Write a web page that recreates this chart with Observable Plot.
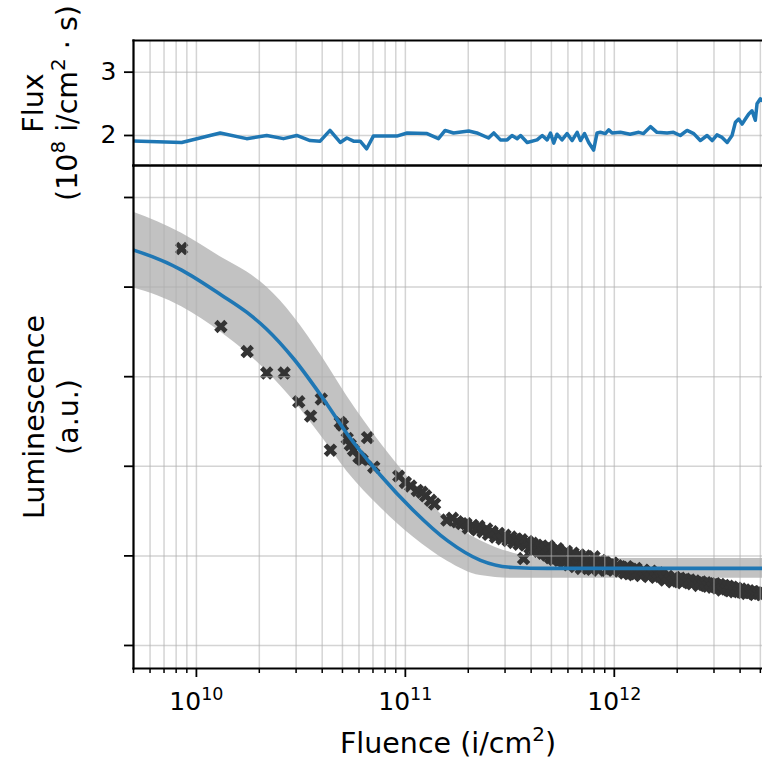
<!DOCTYPE html>
<html><head><meta charset="utf-8">
<script src="https://cdn.jsdelivr.net/npm/d3@7"></script>
<script src="https://cdn.jsdelivr.net/npm/@observablehq/plot@0.6"></script>
<style>
body{margin:0;background:#fff;}
#wrap{position:relative;width:762px;height:759px;overflow:hidden;font-family:"DejaVu Sans",sans-serif;background:#fff;}
#wrap svg{position:absolute;left:0;overflow:visible;background:transparent;}
</style></head><body><div id="wrap"></div>
<script>
// ---------- data ----------
const fluxFluence = [4.0e9,8.5e9,1.30e10,1.74e10,2.17e10,2.61e10,3.02e10,3.50e10,3.91e10,4.36e10,4.88e10,5.25e10,5.65e10,6.08e10,6.53e10,7.03e10,9.10e10,1.02e11,1.27e11,1.44e11,1.55e11,1.70e11,2.01e11,2.20e11,2.50e11,2.65e11,2.85e11,3.07e11,3.24e11,3.43e11,3.56e11,3.83e11,4.27e11,4.52e11,4.77e11,4.95e11,5.13e11,5.32e11,5.62e11,5.94e11,6.28e11,6.64e11,6.89e11,7.20e11,7.54e11,7.96e11,8.27e11,8.58e11,9.06e11,9.40e11,9.76e11,1.07e12,1.19e12,1.31e12,1.38e12,1.49e12,1.60e12,1.79e12,1.92e12,2.07e12,2.23e12,2.40e12,2.58e12,2.78e12,2.94e12,3.10e12,3.28e12,3.47e12,3.66e12,3.80e12,3.94e12,4.09e12,4.24e12,4.40e12,4.56e12,4.73e12,4.82e12,5.00e12,5.12e12];
const fluxValues = [1.92,1.89,2.04,1.95,2.00,1.95,2.00,1.92,1.91,2.08,1.89,1.96,1.91,1.91,1.79,1.99,1.99,2.04,2.03,1.95,2.08,2.04,2.07,2.04,1.96,2.04,1.93,1.93,2.00,1.95,2.00,1.89,1.93,2.00,1.93,2.04,1.88,2.02,1.93,2.03,1.92,2.05,1.92,2.03,1.89,1.77,2.04,2.05,2.03,2.09,2.04,2.05,2.02,2.05,2.03,2.14,2.05,2.04,2.05,2.00,2.08,2.03,1.92,2.00,1.92,2.01,1.97,1.89,2.00,2.21,2.26,2.18,2.26,2.34,2.39,2.24,2.50,2.58,2.55];

const lumFluence = [8.5e9,1.31e10,1.75e10,2.17e10,2.63e10,3.09e10,3.52e10,3.96e10,4.38e10,4.88e10,5.0e10,5.27e10,5.45e10,5.65e10,6.0e10,6.21e10,6.59e10,7.06e10,9.3e10,1.0e11,1.06e11,1.14e11,1.2e11,1.25e11,1.32e11,1.38e11,1.58e11,1.68e11,1.77e11,1.86e11,
1.95e11,2.0e11,2.1e11,2.2e11,2.25e11,2.35e11,2.45e11,2.5e11,2.6e11,2.7e11,2.8e11,2.9e11,3.0e11,3.1e11,
3.2e11,3.3e11,3.4e11,3.5e11,3.6e11,3.68e11,3.75e11,3.85e11,3.95e11,4.05e11,4.15e11,4.25e11,4.35e11,4.45e11,4.55e11,4.65e11,4.75e11,4.85e11,4.95e11,5.05e11,5.15e11,5.25e11,5.35e11,5.45e11,
5.6e11,5.75e11,5.9e11,6.05e11,6.2e11,6.35e11,6.5e11,6.65e11,6.8e11,6.95e11,7.1e11,7.25e11,7.4e11,7.6e11,7.8e11,8.0e11,8.2e11,8.4e11,8.6e11,8.8e11,9.0e11,9.2e11,9.4e11,9.6e11,9.8e11,
1.00e12,1.03e12,1.06e12,1.09e12,1.12e12,1.15e12,1.18e12,1.21e12,1.24e12,1.27e12,1.30e12,1.34e12,1.38e12,1.42e12,1.46e12,1.50e12,1.54e12,1.58e12,1.62e12,1.66e12,
1.70e12,1.75e12,1.80e12,1.85e12,1.90e12,1.95e12,2.00e12,2.06e12,2.12e12,2.18e12,2.24e12,2.30e12,2.36e12,2.42e12,2.48e12,2.54e12,2.60e12,2.67e12,2.74e12,2.81e12,2.88e12,
2.95e12,3.03e12,3.11e12,3.19e12,3.27e12,3.35e12,3.43e12,3.51e12,3.59e12,3.67e12,3.76e12,3.85e12,3.94e12,4.03e12,4.12e12,4.21e12,4.30e12,4.40e12,4.50e12,4.60e12,4.70e12,4.80e12,4.90e12,5.00e12,5.10e12];
const lumValues = [5.43,4.56,4.28,4.04,4.04,3.72,3.56,3.75,3.18,3.49,3.46,3.31,3.24,3.18,3.10,3.07,3.32,2.99,2.89,2.82,2.78,2.73,2.71,2.67,2.62,2.58,2.40,2.42,2.38,2.36,
2.36,2.31,2.34,2.29,2.33,2.27,2.30,2.24,2.27,2.21,2.25,2.19,2.23,2.17,
2.21,2.15,2.19,2.13,2.18,1.97,2.12,2.16,2.09,2.14,2.07,2.12,2.05,2.10,2.03,2.08,2.01,2.11,1.98,2.06,1.96,2.04,2.08,1.95,
2.02,1.93,2.05,1.90,1.99,2.03,1.88,1.97,2.01,1.86,1.94,2.00,1.87,1.96,1.85,1.99,1.91,1.84,1.95,1.88,1.93,1.84,1.90,1.86,1.92,
1.85,1.89,1.83,1.87,1.81,1.88,1.80,1.85,1.79,1.86,1.82,1.78,1.84,1.80,1.77,1.83,1.79,1.76,1.81,1.77,
1.78,1.73,1.77,1.74,1.71,1.76,1.72,1.75,1.70,1.74,1.71,1.73,1.69,1.72,1.70,1.67,1.71,1.68,1.70,1.66,1.69,
1.65,1.69,1.64,1.68,1.62,1.67,1.63,1.66,1.61,1.65,1.60,1.64,1.60,1.63,1.59,1.62,1.58,1.61,1.59,1.60,1.57,1.59,1.58,1.60,1.57];

const fitFluence = [3.0e9,8.5e9,1.32e10,1.74e10,2.17e10,2.92e10,4.0e10,5.27e10,7.6e10,1.09e11,1.59e11,2.29e11,3.29e11,4.78e11,8.58e11,1.0e13];
const fitValues  = [5.55,5.19,4.91,4.72,4.53,4.20,3.77,3.36,2.90,2.51,2.17,1.95,1.87,1.86,1.86,1.86];
const fitUpper   = [6.00,5.60,5.33,5.17,5.00,4.67,4.22,3.78,3.26,2.81,2.40,2.17,2.03,1.97,1.97,1.97];
const fitLower   = [5.10,4.78,4.49,4.27,4.06,3.73,3.32,2.94,2.54,2.21,1.94,1.78,1.75,1.75,1.75,1.75];

const xTicks = [1e10, 1e11, 1e12];
const xTickLabels = ["10^{10}", "10^{11}", "10^{12}"];
const fluxTicks = [2, 3];
const lumTicks = [1, 2, 3, 4, 5, 6];

// ---------- setup ----------
const FONT = "DejaVu Sans";
const LABEL = 28.5;
const TICK = 25;
const xDomain = [5e9, 5.12e12];
const xAll = d3.scaleLog().domain(xDomain).ticks();
const xMinor = xAll.filter(v => !xTicks.includes(v));
const blue = "#1f77b4";
const gridOpts = {stroke: "#b0b0b0", strokeOpacity: 0.55, strokeWidth: 1.5};

const fluxData = fluxFluence.map((f, i) => ({f, v: fluxValues[i]}));
const lumData = lumFluence.map((f, i) => ({f, v: lumValues[i]}));
const fitData = fitFluence.map((f, i) => ({f, v: fitValues[i], hi: fitUpper[i], lo: fitLower[i]}));

const filledX = {draw(ctx, size) {
  const r = Math.sqrt(size / 5) / 2, s = Math.SQRT1_2;
  const pts = [[-3,-1],[-1,-1],[-1,-3],[1,-3],[1,-1],[3,-1],[3,1],[1,1],[1,3],[-1,3],[-1,1],[-3,1]];
  pts.forEach(([a, b], i) => { const x = (a - b) * s * r, y = (a + b) * s * r; i ? ctx.lineTo(x, y) : ctx.moveTo(x, y); });
  ctx.closePath();
}};

function supify(svg) {
  const ns = "http://www.w3.org/2000/svg";
  svg.querySelectorAll("text").forEach(t => {
    const s = t.textContent;
    if (!s.includes("^{")) return;
    const fs = parseFloat(t.getAttribute("font-size") || getComputedStyle(t).fontSize) || 24;
    while (t.firstChild) t.removeChild(t.firstChild);
    let shifted = false;
    s.split(/(\^\{[^}]*\})/).forEach(p => {
      if (!p) return;
      const ts = document.createElementNS(ns, "tspan");
      if (p.startsWith("^{")) {
        ts.textContent = p.slice(2, -1);
        ts.setAttribute("font-size", (fs * 0.7) + "px");
        ts.setAttribute("dy", (-0.42 * fs).toFixed(2));
        shifted = true;
      } else {
        ts.textContent = p;
        if (shifted) { ts.setAttribute("dy", (0.42 * fs).toFixed(2)); shifted = false; }
      }
      t.appendChild(ts);
    });
  });
}

// ---------- top panel: flux ----------
const topPlot = Plot.plot({
  width: 762, height: 165,
  marginTop: 40, marginBottom: 0, marginLeft: 133, marginRight: 0,
  style: {fontFamily: FONT, fontSize: "24px", background: "transparent", overflow: "visible"},
  x: {type: "log", domain: xDomain, axis: null, label: null},
  y: {domain: [1.526, 3.50], axis: null, label: null},
  marks: [
    Plot.gridX(xAll, gridOpts),
    Plot.gridY(fluxTicks, gridOpts),
    Plot.line(fluxData, {x: "f", y: "v", stroke: blue, strokeWidth: 3.5, clip: true}),
    Plot.axisY(fluxTicks, {anchor: "left", label: null, tickSize: 9, tickPadding: 8, strokeWidth: 1.8, fontSize: TICK, tickFormat: d => String(d)}),
    Plot.frame({anchor: "left", stroke: "black", strokeWidth: 2.2}),
    Plot.frame({anchor: "top", stroke: "black", strokeWidth: 2.2}),
    Plot.frame({anchor: "bottom", stroke: "black", strokeWidth: 2.2}),
    Plot.text(["Flux"], {frameAnchor: "left", textAnchor: "middle", lineAnchor: "middle", dx: -100, rotate: -90, fontSize: LABEL, fill: "black"}),
    Plot.text(["(10^{8} i/cm^{2} · s)"], {frameAnchor: "left", textAnchor: "middle", lineAnchor: "middle", dx: -66, rotate: -90, fontSize: LABEL, fill: "black"})
  ]
});

// ---------- bottom panel: luminescence ----------
const bottomPlot = Plot.plot({
  width: 762, height: 594,
  marginTop: 0, marginBottom: 91, marginLeft: 133, marginRight: 0,
  style: {fontFamily: FONT, fontSize: "24px", background: "transparent", overflow: "visible"},
  x: {type: "log", domain: xDomain, axis: null, label: null},
  y: {domain: [0.743, 6.357], axis: null, label: null},
  marks: [
    Plot.areaY(fitData, {x: "f", y1: "lo", y2: "hi", fill: "#9a9a9a", fillOpacity: 0.6, curve: "monotone-x", clip: true}),
    Plot.dot(lumData, {x: "f", y: "v", symbol: filledX, r: 6, fill: "#333333", stroke: "none", clip: true}),
    Plot.gridX(xAll, gridOpts),
    Plot.gridY(lumTicks, gridOpts),
    Plot.line(fitData, {x: "f", y: "v", stroke: blue, strokeWidth: 3.6, curve: "monotone-x", clip: true}),
    Plot.axisY(lumTicks, {anchor: "left", label: null, tickSize: 9, strokeWidth: 1.8, tickFormat: () => ""}),
    Plot.axisX(xMinor, {anchor: "bottom", label: null, tickSize: 5, strokeWidth: 1.5, tickFormat: () => ""}),
    Plot.axisX(xTicks, {anchor: "bottom", label: null, tickSize: 9, tickPadding: 15, strokeWidth: 1.8, fontSize: TICK, tickFormat: d => xTickLabels[xTicks.indexOf(d)]}),
    Plot.frame({anchor: "left", stroke: "black", strokeWidth: 2.2}),
    Plot.frame({anchor: "top", stroke: "black", strokeWidth: 2.2}),
    Plot.frame({anchor: "bottom", stroke: "black", strokeWidth: 2.2}),
    Plot.text(["Luminescence"], {frameAnchor: "left", textAnchor: "middle", lineAnchor: "middle", dx: -99, rotate: -90, fontSize: LABEL, fill: "black"}),
    Plot.text(["(a.u.)"], {frameAnchor: "left", textAnchor: "middle", lineAnchor: "middle", dx: -65, rotate: -90, fontSize: LABEL, fill: "black"}),
    Plot.text(["Fluence (i/cm^{2})"], {frameAnchor: "bottom", textAnchor: "middle", lineAnchor: "middle", dy: 75, fontSize: LABEL, fill: "black"})
  ]
});

const wrap = document.getElementById("wrap");
bottomPlot.style.top = "165px";
topPlot.style.top = "0px";
wrap.appendChild(bottomPlot);
wrap.appendChild(topPlot);
supify(topPlot);
supify(bottomPlot);
</script></body></html>
